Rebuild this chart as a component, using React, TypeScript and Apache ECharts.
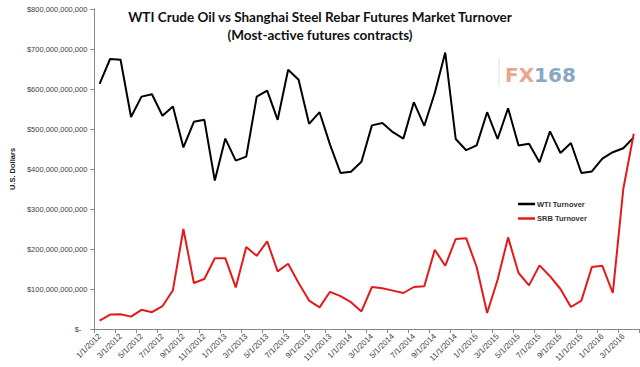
import React, { useEffect, useRef } from "react";
import * as echarts from "echarts";

// Monthly, 1/1/2012 .. 4/1/2016
const categories = [
  "1/1/2012", "2/1/2012", "3/1/2012", "4/1/2012", "5/1/2012", "6/1/2012",
  "7/1/2012", "8/1/2012", "9/1/2012", "10/1/2012", "11/1/2012", "12/1/2012",
  "1/1/2013", "2/1/2013", "3/1/2013", "4/1/2013", "5/1/2013", "6/1/2013",
  "7/1/2013", "8/1/2013", "9/1/2013", "10/1/2013", "11/1/2013", "12/1/2013",
  "1/1/2014", "2/1/2014", "3/1/2014", "4/1/2014", "5/1/2014", "6/1/2014",
  "7/1/2014", "8/1/2014", "9/1/2014", "10/1/2014", "11/1/2014", "12/1/2014",
  "1/1/2015", "2/1/2015", "3/1/2015", "4/1/2015", "5/1/2015", "6/1/2015",
  "7/1/2015", "8/1/2015", "9/1/2015", "10/1/2015", "11/1/2015", "12/1/2015",
  "1/1/2016", "2/1/2016", "3/1/2016", "4/1/2016",
];

// Turnover, billions of U.S. dollars
const wtiTurnover = [
  613, 675, 673, 530, 581, 587, 533, 556, 454, 518, 523, 371,
  476, 421, 431, 581, 596, 523, 648, 623, 513, 542, 461, 390,
  393, 418, 509, 515, 492, 476, 567, 508, 590, 691, 475, 447,
  459, 542, 475, 552, 459, 463, 417, 494, 440, 465, 390, 394,
  426, 442, 452, 479,
];
const srbTurnover = [
  21, 36, 37, 31, 48, 42, 57, 97, 250, 115, 125, 177,
  177, 104, 205, 183, 219, 144, 163, 115, 71, 54, 93, 82,
  67, 44, 105, 102, 96, 90, 105, 107, 198, 158, 225, 227,
  155, 40, 123, 229, 140, 109, 159, 132, 100, 55, 71, 155,
  158, 90, 350, 488,
];

const seriesNames = ["WTI Turnover", "SRB Turnover"];
const titleLines = [
  "WTI Crude Oil vs Shanghai Steel Rebar Futures Market Turnover",
  "(Most-active futures contracts)",
];
const yAxisTitle = "U.S. Dollars";
const yMax = 800;
const yStep = 100;

export default function App() {
  const ref = useRef<HTMLDivElement>(null);
  useEffect(() => {
    document.body.style.margin = "0";
    if (!ref.current) return;
    const chart = echarts.init(ref.current, undefined, { renderer: "svg" });
    const axisColor = "#868686";
    chart.setOption({
      animation: false,
      backgroundColor: "#ffffff",
      title: {
        text: titleLines.join("\n"),
        left: "center",
        top: 3,
        textStyle: {
          fontFamily: "Lato",
          fontWeight: "bold",
          fontSize: 13.5,
          lineHeight: 18,
          color: "#111111",
        },
      },
      grid: { left: 82, right: 1, top: 9, bottom: 38 },
      legend: {
        orient: "vertical",
        left: 513,
        top: 194,
        itemWidth: 17,
        itemHeight: 2.5,
        itemGap: 4.5,
        icon: "rect",
        data: seriesNames,
        textStyle: {
          fontFamily: "Liberation Sans",
          fontWeight: "bold",
          fontSize: 7.5,
          lineHeight: 10,
          color: "#333333",
          padding: [0, 0, 0, -3],
        },
      },
      xAxis: {
        type: "category",
        data: categories,
        boundaryGap: true,
        axisLine: { show: true, lineStyle: { color: axisColor, width: 1 } },
        axisTick: { show: true, interval: 1, length: 4, lineStyle: { color: axisColor } },
        axisLabel: {
          interval: 1,
          rotate: 45,
          margin: 6,
          fontFamily: "Liberation Sans",
          fontSize: 8,
          color: "#404040",
        },
        splitLine: { show: false },
      },
      yAxis: {
        type: "value",
        min: 0,
        max: yMax,
        interval: yStep,
        name: yAxisTitle,
        nameLocation: "middle",
        nameGap: 74,
        nameTextStyle: {
          fontFamily: "Liberation Sans",
          fontWeight: "bold",
          fontSize: 7.5,
          color: "#222222",
        },
        axisLine: { show: true, lineStyle: { color: axisColor, width: 1 } },
        axisTick: { show: true, length: 4, lineStyle: { color: axisColor } },
        splitLine: { show: false },
        axisLabel: {
          margin: 7,
          fontFamily: "Liberation Sans",
          fontSize: 7.5,
          color: "#404040",
          formatter: (v: number) => (v === 0 ? "{z|$-}" : "$" + v + ",000,000,000"),
          rich: { z: { fontFamily: "Liberation Sans", fontSize: 7.5, color: "#404040", padding: [0, 6, 0, 0] } },
        },
      },
      graphic: [
        {
          type: "line",
          shape: { x1: 499, y1: 58, x2: 499, y2: 86 },
          style: { stroke: "#dddddd", lineWidth: 1 },
          silent: true,
        },
        {
          type: "text",
          x: 505,
          y: 75,
          silent: true,
          style: {
            text: "{a|FX}{b|168}",
            verticalAlign: "middle",
            rich: {
              a: { fontFamily: "DejaVu Sans", fontWeight: "bold", fontSize: 20, fill: "#e8a68d" },
              b: { fontFamily: "DejaVu Sans", fontWeight: "bold", fontSize: 20, fill: "#8aa7bf" },
            },
          },
        },
      ],
      series: [
        {
          name: seriesNames[0],
          type: "line",
          data: wtiTurnover,
          symbol: "none",
          lineStyle: { color: "#000000", width: 2 },
          itemStyle: { color: "#000000" },
        },
        {
          name: seriesNames[1],
          type: "line",
          data: srbTurnover,
          symbol: "none",
          lineStyle: { color: "#e41a1a", width: 2 },
          itemStyle: { color: "#e41a1a" },
        },
      ],
    });
    return () => chart.dispose();
  }, []);
  return <div ref={ref} style={{ width: 640, height: 367 }} />;
}
